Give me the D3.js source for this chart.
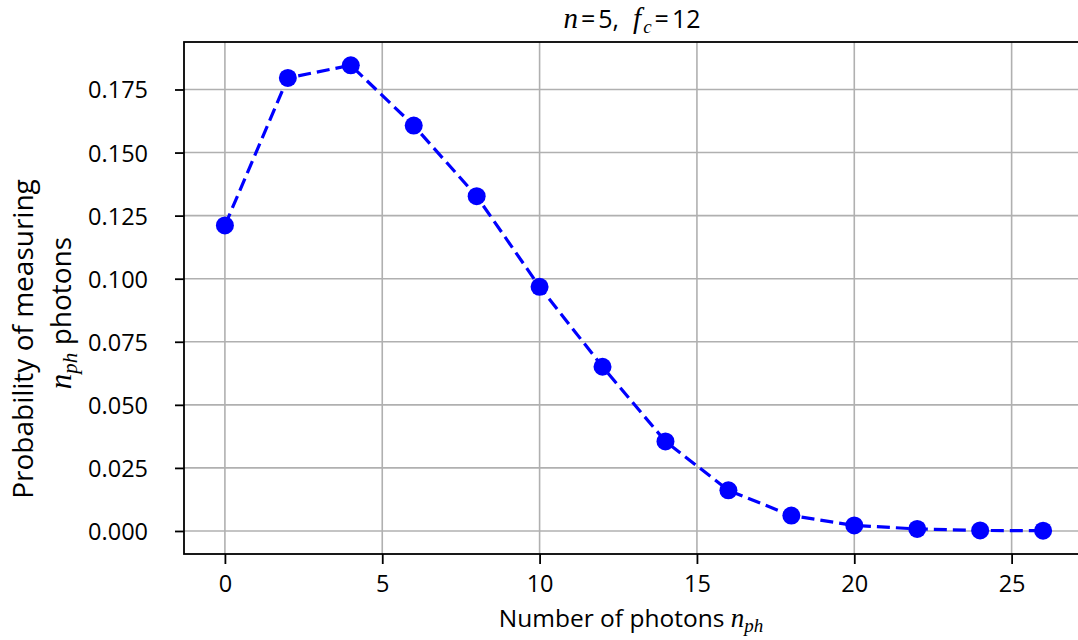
<!DOCTYPE html>
<html>
<head>
<meta charset="utf-8">
<script src="https://cdn.jsdelivr.net/npm/d3@7"></script>
<style>
  html, body { margin: 0; padding: 0; background: #fff; }
  svg { display: block; }
  .sans { font-family: "Open Sans", "DejaVu Sans", sans-serif; }
  .math { font-family: "Liberation Serif", "DejaVu Serif", serif; font-style: italic; }
</style>
</head>
<body>
<svg id="chart" width="1078" height="640"></svg>
<script>
// Photon-number distribution, n = 5, f_c = 12
const photonCounts = [0, 2, 4, 6, 8, 10, 12, 14, 16, 18, 20, 22, 24, 26];
const probabilities = [0.1211, 0.1796, 0.1846, 0.1607, 0.1327, 0.0968, 0.0651,
                       0.0355, 0.0161, 0.0061, 0.0022, 0.0008, 0.0002, 0.0001];
const xTicks = [0, 5, 10, 15, 20, 25];
const yTicks = [0, 0.025, 0.05, 0.075, 0.1, 0.125, 0.15, 0.175];

const svg = d3.select("#chart");
const plot = { left: 184, right: 1084, top: 42, bottom: 554 };

// 5% padding around the data, as in a default matplotlib axes
function padded([lo, hi]) {
  const m = (hi - lo) * 0.05;
  return [lo - m, hi + m];
}

const x = d3.scaleLinear().domain(padded(d3.extent(photonCounts))).range([plot.left, plot.right]);
const y = d3.scaleLinear().domain(padded(d3.extent(probabilities))).range([plot.bottom, plot.top]);

const gridColor = "#b0b0b0";

// grid
const grid = svg.append("g");
grid.selectAll("line.vx").data(xTicks).join("line")
  .attr("x1", d => x(d)).attr("x2", d => x(d))
  .attr("y1", plot.top).attr("y2", plot.bottom)
  .attr("stroke", gridColor).attr("stroke-width", 1.6);
grid.selectAll("line.hy").data(yTicks).join("line")
  .attr("y1", d => y(d)).attr("y2", d => y(d))
  .attr("x1", plot.left).attr("x2", plot.right)
  .attr("stroke", gridColor).attr("stroke-width", 1.6);

// axes
const xAxis = d3.axisBottom(x).tickValues(xTicks).tickSize(10).tickPadding(6).tickFormat(d3.format("d"));
const yAxis = d3.axisLeft(y).tickValues(yTicks).tickSize(9).tickPadding(27).tickFormat(d3.format(".3f"));

const gx = svg.append("g").attr("transform", `translate(0,${plot.bottom})`).call(xAxis);
const gy = svg.append("g").attr("transform", `translate(${plot.left},0)`).call(yAxis);
[gx, gy].forEach(g => {
  g.select(".domain").remove();
  g.selectAll(".tick line").attr("stroke", "#000").attr("stroke-width", 1.8);
  g.selectAll(".tick text").attr("class", "sans").attr("font-size", 23.5).attr("fill", "#000");
});
gx.selectAll(".tick text").attr("dy", "0.95em");
gy.selectAll(".tick text").attr("dy", "0.36em");

// frame
const frame = svg.append("g").attr("fill", "none").attr("stroke", "#000").attr("stroke-width", 1.8);
frame.append("rect")
  .attr("x", plot.left).attr("y", plot.top)
  .attr("width", plot.right - plot.left).attr("height", plot.bottom - plot.top);

// series
const line = d3.line().x((d, i) => x(photonCounts[i])).y(d => y(d));
svg.append("path").datum(probabilities)
  .attr("d", line)
  .attr("fill", "none").attr("stroke", "#0000ff")
  .attr("stroke-width", 3.2).attr("stroke-dasharray", "13,6");
svg.append("g").selectAll("circle").data(probabilities).join("circle")
  .attr("cx", (d, i) => x(photonCounts[i])).attr("cy", d => y(d))
  .attr("r", 9).attr("fill", "#0000ff");

// title
const title = svg.append("text").attr("class", "sans").attr("x", 632).attr("y", 28)
  .attr("text-anchor", "middle").attr("font-size", 25);
title.append("tspan").attr("class", "math").attr("font-size", 29).text("n");
title.append("tspan").attr("dx", 3).text("=");
title.append("tspan").attr("dx", 3).text("5,");
title.append("tspan").attr("class", "math").attr("font-size", 29).attr("dx", 14).text("f");
title.append("tspan").attr("class", "math").attr("font-size", 19).attr("dx", 2).attr("dy", 5).text("c");
title.append("tspan").attr("dx", 3).attr("dy", -5).text("=");
title.append("tspan").attr("dx", 3).text("12");

// x label
const xl = svg.append("text").attr("class", "sans").attr("x", 631).attr("y", 627)
  .attr("text-anchor", "middle").attr("font-size", 24.5);
xl.append("tspan").text("Number of photons ");
xl.append("tspan").attr("class", "math").attr("font-size", 27).text("n");
xl.append("tspan").attr("class", "math").attr("font-size", 19).attr("dy", 5).text("ph");

// y label, two lines
svg.append("text").attr("class", "sans").attr("font-size", 28)
  .attr("text-anchor", "middle").attr("transform", "translate(33,339) rotate(-90)")
  .text("Probability of measuring");
const yl2 = svg.append("text").attr("class", "sans").attr("font-size", 28)
  .attr("text-anchor", "middle").attr("transform", "translate(71,313) rotate(-90)");
yl2.append("tspan").attr("class", "math").attr("font-size", 31).text("n");
yl2.append("tspan").attr("class", "math").attr("font-size", 21).attr("dy", 6).text("ph");
yl2.append("tspan").attr("dy", -6).text(" photons");
</script>
</body>
</html>
